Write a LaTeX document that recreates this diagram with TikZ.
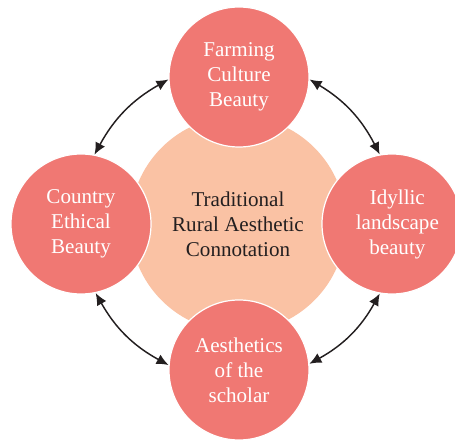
\documentclass[tikz,border=0pt]{standalone}
\usepackage{fontspec}
\setmainfont{Liberation Serif}
\usepackage{tikz}
\usetikzlibrary{arrows.meta}

\definecolor{petal}{RGB}{240,120,115}
\definecolor{core}{RGB}{250,194,164}
\definecolor{ink}{RGB}{35,31,32}

\tikzset{
  petal/.style={circle, fill=petal, draw=white, line width=0.9pt, minimum size=105pt, inner sep=0pt,
    text=white, align=center, font=\fontsize{15.8}{18.75}\selectfont},
  core/.style={circle, fill=core, minimum size=162pt, inner sep=0pt,
    text=ink, align=center, font=\fontsize{15.8}{18.75}\selectfont},
  link/.style={{Latex[length=9pt,width=8pt]}-{Latex[length=9pt,width=8pt]}, color=ink, line width=1.1pt}
}

\begin{document}
\begin{tikzpicture}[x=0.75pt,y=0.75pt,yscale=-1,xscale=1]
\path[use as bounding box] (0,0) rectangle (455,445);

% centre disc
\node[core] (ctr) at (238,224) {Traditional\\Rural Aesthetic\\Connotation};

% outer discs
\node[petal] (top) at (239,77) {Farming\\Culture\\Beauty};
\node[petal] (lft) at (81,224) {Country\\Ethical\\Beauty};
\node[petal] (rgt) at (392,224) {\hspace*{8pt}Idyllic\\\hspace*{8pt}landscape\\\hspace*{8pt}beauty};
\node[petal] (bot) at (239,370) {Aesthetics\\of the\\scholar};

% two-way links
\draw[link] (lft.79) to[bend right=16] (top.182);
\draw[link] (top.-2) to[bend right=16] (rgt.100);
\draw[link] (lft.-78) to[bend left=16] (bot.176);
\draw[link] (rgt.-100) to[bend right=16] (bot.5);

\end{tikzpicture}
\end{document}
